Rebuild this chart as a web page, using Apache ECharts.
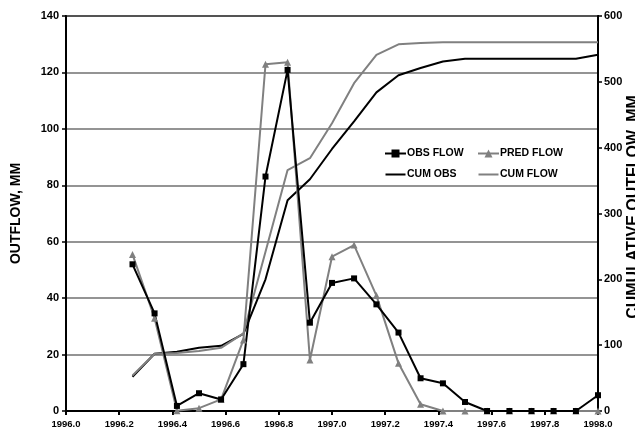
<!DOCTYPE html>
<html>
<head>
<meta charset="utf-8">
<script src="https://cdn.jsdelivr.net/npm/echarts@6/dist/echarts.min.js"></script>
<style>
  html, body { margin: 0; padding: 0; background: #fff; }
  #chart { width: 635px; height: 431px; }
</style>
</head>
<body>
<div id="chart"></div>
<script>
// monthly time steps (decimal years)
const years = [1996.250, 1996.333, 1996.417, 1996.500, 1996.583, 1996.667, 1996.750, 1996.833,
  1996.917, 1997.000, 1997.083, 1997.167, 1997.250, 1997.333, 1997.417, 1997.500,
  1997.583, 1997.667, 1997.750, 1997.833, 1997.917, 1998.000]
const obsFlow = [52.0, 34.6, 1.8, 6.3, 4.1, 16.6, 83.1, 120.9, 31.3, 45.4, 47.0, 37.8,
  27.8, 11.6, 9.8, 3.2, 0, 0, 0, 0, 0, 5.6]
const predFlow = [55.5, 32.9, 0.1, 1.0, 4.1, 25.2, 122.9, 123.6, 18.1, 54.7, 58.8, 40.9,
  16.9, 2.4, 0, 0, 0, 0, 0, 0, 0, 0]
const cumObs = [52, 87, 90, 96, 99, 117, 200, 320, 352, 398, 440, 484,
  510, 521, 531, 535, 535, 535, 535, 535, 535, 541]
const cumFlow = [54, 87, 88, 91, 96, 118, 242, 366, 384, 437, 498, 541,
  557, 559, 560, 560, 560, 560, 560, 560, 560, 560]

const pair = (ys) => years.map((x, i) => [x, ys[i]])

const GREY = '#808080'
const labelFont = { fontFamily: 'Liberation Sans, Arial', fontWeight: 'bold', color: '#000' }
// plain line icon for the cumulative series (tiny corner dots keep the bar centred)
const lineIcon = 'path://M0,4 H20 V6 H0 Z M0,0 H0.01 V0.01 H0 Z M19.99,9.99 H20 V10 H19.99 Z'

const chart = echarts.init(document.getElementById('chart'))
chart.setOption({
  animation: false,
  grid: {
    left: 66, right: 37, top: 16, bottom: 20,
    show: true, borderColor: '#000', borderWidth: 2,
    outerBoundsMode: 'none'
  },
  legend: [
    {
      orient: 'vertical', left: 379, top: 143,
      itemWidth: 21, itemHeight: 10, itemGap: 10,
      textStyle: { ...labelFont, fontSize: 10.5, padding: [0, 0, 0, -4] },
      data: ['OBS FLOW', { name: 'CUM OBS', icon: lineIcon }]
    },
    {
      orient: 'vertical', left: 472, top: 143,
      itemWidth: 21, itemHeight: 10, itemGap: 10,
      textStyle: { ...labelFont, fontSize: 10.5, padding: [0, 0, 0, -4] },
      data: ['PRED FLOW', { name: 'CUM FLOW', icon: lineIcon }]
    }
  ],
  graphic: [
    {
      type: 'text', x: 634, y: 207, rotation: Math.PI / 2,
      style: {
        text: 'CUMULATIVE OUTFLOW, MM', fill: '#000',
        font: 'bold 16px "Liberation Sans", Arial',
        align: 'center', verticalAlign: 'middle'
      }
    }
  ],
  xAxis: {
    type: 'value', min: 1996, max: 1998, interval: 0.2,
    axisLine: { show: true, lineStyle: { color: '#000', width: 2 } },
    axisTick: { show: true, length: 4, lineStyle: { color: '#000', width: 2 } },
    axisLabel: { ...labelFont, fontSize: 9.5, margin: 8, formatter: v => v.toFixed(1) },
    splitLine: { show: false }
  },
  yAxis: [
    {
      type: 'value', min: 0, max: 140, interval: 20,
      name: 'OUTFLOW, MM', nameLocation: 'middle', nameGap: 43, nameRotate: 90,
      nameTextStyle: { ...labelFont, fontSize: 14 },
      axisLine: { show: true, lineStyle: { color: '#000', width: 2 } },
      axisTick: { show: true, length: 4, lineStyle: { color: '#000', width: 1.5 } },
      axisLabel: { ...labelFont, fontSize: 11, margin: 7 },
      splitLine: { show: true, lineStyle: { color: '#707070', width: 1.5 } }
    },
    {
      type: 'value', min: 0, max: 600, interval: 100, position: 'right',
      axisLine: { show: true, lineStyle: { color: '#000', width: 2 } },
      axisTick: { show: true, length: 4, lineStyle: { color: '#000', width: 1.5 } },
      axisLabel: { ...labelFont, fontSize: 11, margin: 6 },
      splitLine: { show: false }
    }
  ],
  series: [
    {
      name: 'CUM OBS', type: 'line', yAxisIndex: 1, data: pair(cumObs),
      symbol: 'none', lineStyle: { color: '#000', width: 2 }, itemStyle: { color: '#000' }
    },
    {
      name: 'CUM FLOW', type: 'line', yAxisIndex: 1, data: pair(cumFlow),
      symbol: 'none', lineStyle: { color: GREY, width: 2 }, itemStyle: { color: GREY }
    },
    {
      name: 'PRED FLOW', type: 'line', data: pair(predFlow),
      symbol: 'triangle', symbolSize: 7,
      lineStyle: { color: GREY, width: 2 }, itemStyle: { color: GREY }
    },
    {
      name: 'OBS FLOW', type: 'line', data: pair(obsFlow),
      symbol: 'rect', symbolSize: 6,
      lineStyle: { color: '#000', width: 2 }, itemStyle: { color: '#000' }
    }
  ]
})
</script>
</body>
</html>
